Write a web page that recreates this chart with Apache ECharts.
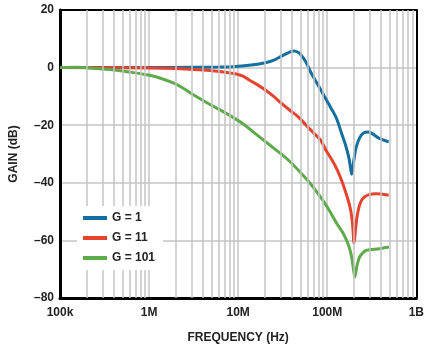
<!DOCTYPE html>
<html>
<head>
<meta charset="utf-8">
<script src="https://cdn.jsdelivr.net/npm/echarts@6/dist/echarts.min.js"></script>
<style>html,body{margin:0;padding:0;background:#fff}#c{width:427px;height:349px}</style>
</head>
<body>
<div id="c"></div>
<script>
// Frequency (Hz) / gain (dB) pairs
const g1 = [[1e5,0],[3e5,0],[1e6,0],[3e6,0.1],[6e6,0.2],[8.7e6,0.3],[1.4e7,0.9],[2.02e7,1.7],[2.6e7,2.8],[3.07e7,4],[3.7e7,5.2],[4.24e7,5.8],[4.7e7,5.3],[5.1e7,4.3],[5.8e7,1.8],[6.55e7,-1.7],[7.8e7,-5.8],[9.2e7,-9.8],[1.1e8,-14],[1.28e8,-17.9],[1.45e8,-22.9],[1.6e8,-26.8],[1.74e8,-31],[1.84e8,-35.5],[1.88e8,-37],[1.97e8,-33],[2.1e8,-28],[2.3e8,-24.5],[2.55e8,-22.7],[2.9e8,-22.4],[3.3e8,-23.2],[3.84e8,-24.6],[4.9e8,-25.8]];
const g11 = [[1e5,0],[1e6,-0.1],[2e6,-0.3],[4e6,-0.8],[6.8e6,-1.5],[8.7e6,-2],[1.1e7,-2.8],[1.33e7,-4.3],[1.65e7,-6],[2.02e7,-7.8],[2.5e7,-10],[3.07e7,-12.4],[3.8e7,-14.8],[4.69e7,-17],[5.8e7,-20],[7.13e7,-22.9],[8.43e7,-25.2],[9.6e7,-28.5],[1.2e8,-33.5],[1.4e8,-38],[1.6e8,-43],[1.8e8,-48.4],[1.92e8,-54],[2e8,-61],[2.08e8,-56],[2.18e8,-51],[2.35e8,-47],[2.6e8,-45],[3e8,-44],[3.5e8,-43.8],[4.9e8,-44.3]];
const g101 = [[1e5,0],[1.5e5,0.1],[2.54e5,-0.3],[4e5,-0.8],[5.9e5,-1.5],[9.8e5,-2.6],[1.37e6,-3.8],[2.08e6,-6],[3.17e6,-9.5],[4.83e6,-12.8],[7.35e6,-15.9],[1.12e7,-19.4],[1.6e7,-23.2],[2.4e7,-27.5],[3.6e7,-31.9],[6e7,-39.1],[8e7,-44],[1e8,-48.4],[1.3e8,-54.5],[1.52e8,-57.7],[1.75e8,-62],[1.88e8,-65.8],[1.97e8,-70],[2.04e8,-72.7],[2.15e8,-69],[2.31e8,-65.8],[2.74e8,-63.5],[3.84e8,-62.9],[4.93e8,-62.3]];
const seriesNames = ['G = 1','G = 11','G = 101'];
const seriesColors = ['#1570a0','#e5432d','#5dab4b'];
const xTickLabels = {1e5:'100k',1e6:'1M',1e7:'10M',1e8:'100M',1e9:'1B'};
const yTicks = [20,0,-20,-40,-60,-80];

const minorLines = [];
[1e5,1e6,1e7,1e8].forEach(d => { for (let m = 2; m <= 9; m++) minorLines.push({xAxis: m*d}); });

const font = 'Liberation Sans, Arial, sans-serif';
const chart = echarts.init(document.getElementById('c'), null, {renderer:'canvas'});
chart.setOption({
  animation:false,
  backgroundColor:'#fff',
  grid:{left:53,right:9,top:10,bottom:51},
  legend:{
    orient:'vertical', left:77, top:206, padding:[6,8,6,6], z:20,
    backgroundColor:'#fff', itemWidth:24, itemHeight:4, itemGap:8,
    icon:'rect', data:seriesNames,
    textStyle:{fontFamily:font, fontWeight:'bold', fontSize:12, color:'#222'}
  },
  xAxis:[{
    type:'log', min:1e5, max:1e9, logBase:10,
    name:'FREQUENCY (Hz)', nameLocation:'middle', nameGap:34,
    nameTextStyle:{fontFamily:font, fontWeight:'bold', fontSize:12, color:'#222'},
    axisLine:{onZero:false, lineStyle:{color:'#000', width:3}},
    axisTick:{show:false},
    axisLabel:{margin:9, fontFamily:font, fontWeight:'bold', fontSize:12, color:'#222', formatter:v => xTickLabels[v] || ''},
    splitLine:{show:true, lineStyle:{color:'#c4c4c4', width:1.5}}
  },{
    type:'log', min:1e5, max:1e9, position:'top',
    axisLine:{onZero:false, lineStyle:{color:'#000', width:2}}, axisTick:{show:false}, axisLabel:{show:false}, splitLine:{show:false}
  }],
  yAxis:[{
    type:'value', min:-80, max:20, interval:20,
    name:'GAIN (dB)', nameLocation:'middle', nameGap:40,
    nameTextStyle:{fontFamily:font, fontWeight:'bold', fontSize:12, color:'#222'},
    axisLine:{onZero:false, lineStyle:{color:'#000', width:3}},
    axisTick:{show:false},
    axisLabel:{margin:6, fontFamily:font, fontWeight:'bold', fontSize:12, color:'#222',
      formatter:v => yTicks.includes(v) ? (v < 0 ? '\u2013' + Math.abs(v) : String(v)) : ''},
    splitLine:{show:true, lineStyle:{color:'#c4c4c4', width:1.5}}
  },{
    type:'value', min:-80, max:20, position:'right',
    axisLine:{show:true, onZero:false, lineStyle:{color:'#000', width:2}}, axisTick:{show:false}, axisLabel:{show:false}, splitLine:{show:false}
  }],
  series:[
    {type:'line', data:[], z:1, silent:true,
     markLine:{silent:true, symbol:'none', label:{show:false}, animation:false,
       lineStyle:{color:'#c4c4c4', width:1.5, type:'solid'}, data:minorLines}},
    ...[g1,g11,g101].map((d,i) => ({
      name:seriesNames[i], type:'line', data:d, z:3, showSymbol:false, symbol:'none',
      smooth:0.3,
      color:seriesColors[i], lineStyle:{color:seriesColors[i], width:3}
    }))
  ]
});
</script>
</body>
</html>
